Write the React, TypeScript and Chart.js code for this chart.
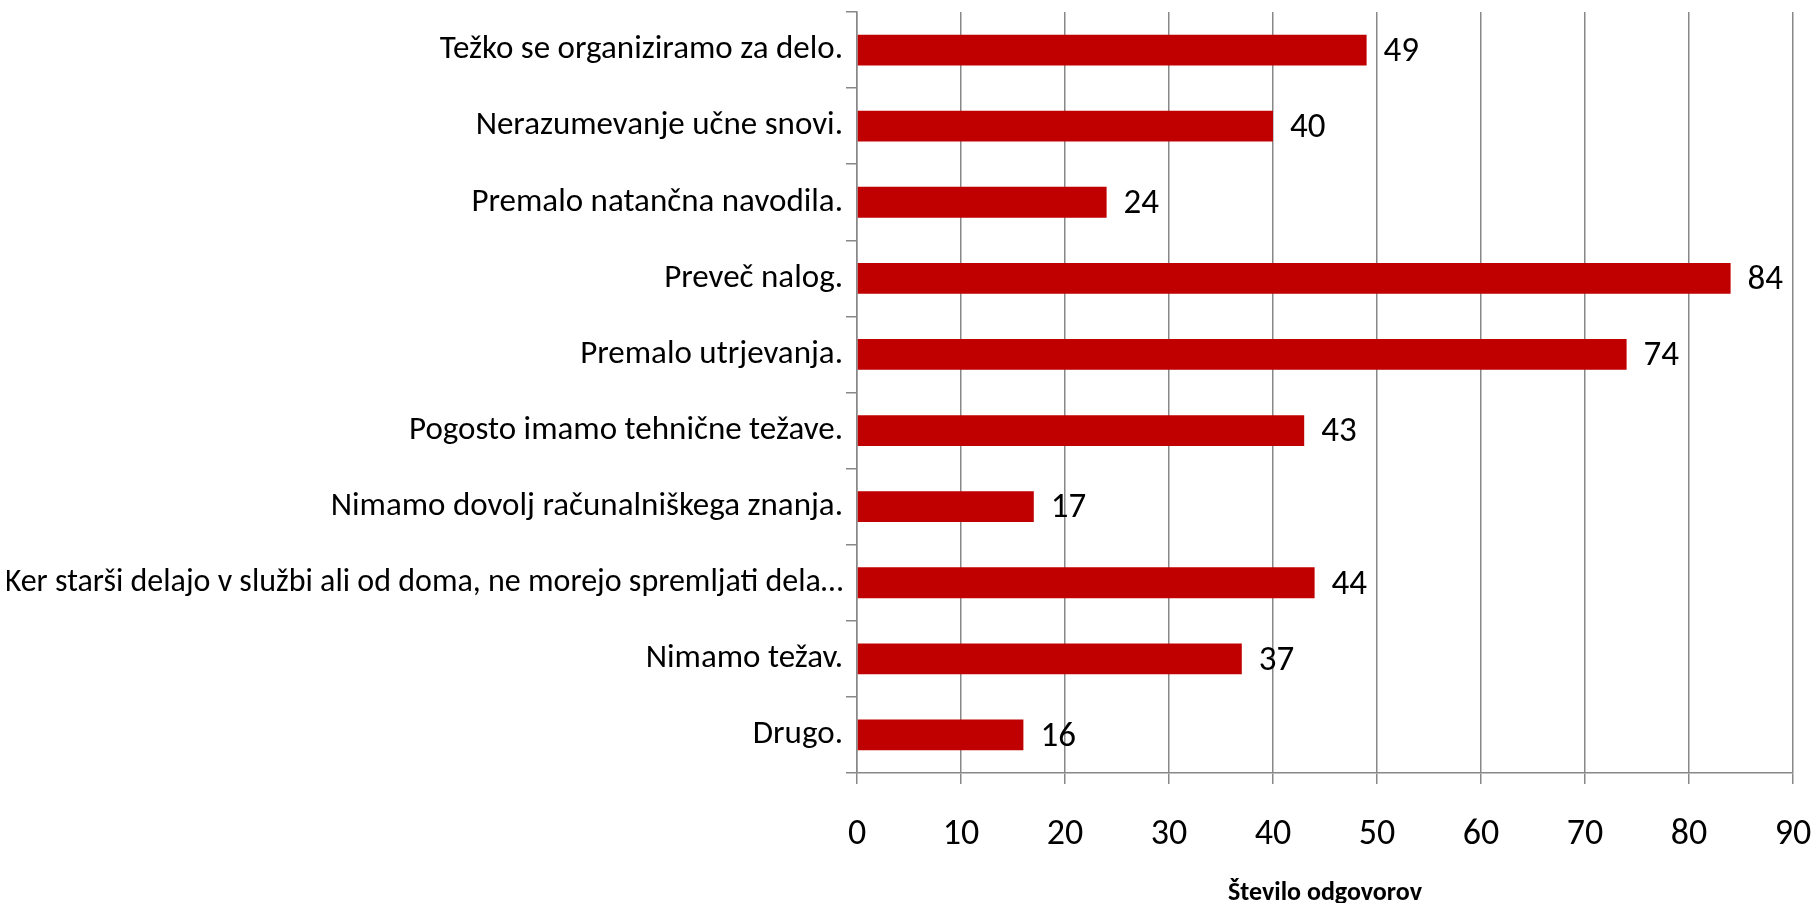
import React, { useEffect, useRef } from 'react';
import { Chart, registerables } from 'chart.js';

Chart.register(...registerables);

const categories = [
  'Težko se organiziramo za delo.',
  'Nerazumevanje učne snovi.',
  'Premalo natančna navodila.',
  'Preveč nalog.',
  'Premalo utrjevanja.',
  'Pogosto imamo tehnične težave.',
  'Nimamo dovolj računalniškega znanja.',
  'Ker starši delajo v službi ali od doma, ne morejo spremljati dela…',
  'Nimamo težav.',
  'Drugo.',
];
const values = [49, 40, 24, 84, 74, 43, 17, 44, 37, 16];
const xMin = 0;
const xMax = 90;
const xStep = 10;
const axisTitle = 'Število odgovorov';

const FONT = 'Carlito, Calibri, Lato, sans-serif';
const BAR_COLOR = '#C00000';
const GRID_COLOR = '#888888';

const valueLabels = {
  id: 'valueLabels',
  afterDatasetsDraw(chart: any) {
    const ctx = chart.ctx;
    const meta = chart.getDatasetMeta(0);
    const xs = chart.scales.x;
    ctx.save();
    ctx.font = `35px ${FONT}`;
    ctx.fillStyle = '#000';
    ctx.textAlign = 'left';
    ctx.textBaseline = 'middle';
    meta.data.forEach((bar: any, i: number) => {
      const v = values[i];
      ctx.fillText(String(v), xs.getPixelForValue(v) + 17, bar.y + 2);
    });
    ctx.restore();
  },
};

export default function App() {
  const ref = useRef<HTMLCanvasElement>(null);

  useEffect(() => {
    document.body.style.margin = '0';
    const chart = new Chart(ref.current!, {
      type: 'bar',
      data: {
        labels: categories,
        datasets: [
          {
            data: values,
            backgroundColor: BAR_COLOR,
            barPercentage: 0.405,
            categoryPercentage: 1,
          },
        ],
      },
      options: {
        indexAxis: 'y',
        animation: false,
        responsive: false,
        maintainAspectRatio: false,
        layout: { padding: { left: 7, right: 24, top: 12, bottom: 0 } },
        plugins: { legend: { display: false }, tooltip: { enabled: false } },
        scales: {
          x: {
            min: xMin,
            max: xMax,
            ticks: { stepSize: xStep, color: '#000', font: { family: FONT, size: 36 }, padding: 29 },
            grid: { color: GRID_COLOR, lineWidth: 1.5, tickLength: 11 },
            border: { color: GRID_COLOR, width: 1.5 },
            title: {
              display: true,
              text: axisTitle,
              color: '#000',
              font: { family: FONT, size: 26, weight: 'bold', lineHeight: 1 },
              padding: { top: 0, bottom: -3 },
            },
            afterFit: (s: any) => {
              s.height = 130;
              s.paddingLeft = 0;
              s.paddingRight = 0;
            },
          },
          y: {
            offset: true,
            ticks: {
              color: '#000',
              font: (c: any) => ({ family: FONT, size: String(categories[c.index] || '').length > 50 ? 32 : 33 }),
              padding: 3,
              autoSkip: false,
            },
            grid: { display: true, drawOnChartArea: false, offset: true, color: GRID_COLOR, lineWidth: 1.5, tickLength: 11 },
            border: { color: GRID_COLOR, width: 1.5 },
            afterFit: (s: any) => {
              s.width = 850;
              s.paddingTop = 0;
              s.paddingBottom = 0;
            },
          },
        },
      },
      plugins: [valueLabels],
    });
    return () => chart.destroy();
  }, []);

  return (
    <div style={{ position: 'relative', width: 1817, height: 903 }}>
      <canvas ref={ref} width={1817} height={903} style={{ display: 'block' }} />
    </div>
  );
}
